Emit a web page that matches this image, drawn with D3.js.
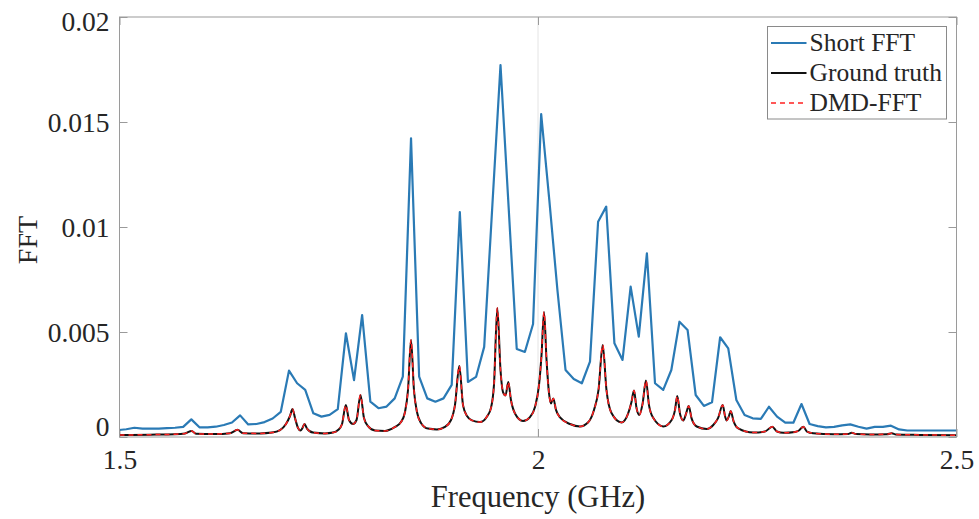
<!DOCTYPE html>
<html>
<head>
<meta charset="utf-8">
<script src="https://cdn.jsdelivr.net/npm/d3@7"></script>
<style>
  body { margin: 0; background: #fff; }
  text { font-family: "Liberation Serif", "Times New Roman", serif; fill: #262626; }
</style>
</head>
<body>
<svg id="chart"></svg>
<script>
// short FFT, coarse frequency grid (GHz)
const shortFreq = [1.4984,1.5081,1.5178,1.5275,1.5372,1.5470,1.5567,1.5664,1.5761,1.5858,
  1.5955,1.6053,1.6150,1.6247,1.6344,1.6441,1.6538,1.6636,1.6733,1.6830,
  1.6927,1.7025,1.7122,1.7219,1.7316,1.7413,1.7510,1.7608,1.7705,1.7802,
  1.7899,1.7997,1.8094,1.8191,1.8288,1.8385,1.8483,1.8580,1.8677,1.8774,
  1.8871,1.8969,1.9066,1.9163,1.9260,1.9357,1.9455,1.9552,1.9649,1.9746,
  1.9843,1.9941,2.0038,2.0135,2.0232,2.0329,2.0427,2.0524,2.0621,2.0718,
  2.0815,2.0913,2.1010,2.1107,2.1204,2.1301,2.1398,2.1496,2.1593,2.1690,
  2.1787,2.1884,2.1982,2.2079,2.2176,2.2273,2.2370,2.2468,2.2565,2.2662,
  2.2759,2.2856,2.2954,2.3051,2.3148,2.3245,2.3342,2.3440,2.3537,2.3634,
  2.3731,2.3828,2.3926,2.4023,2.4120,2.4217,2.4314,2.4412,2.4509,2.4606,
  2.4703,2.4800,2.4898,2.4995];
const shortFFT = [0.00033,0.00037,0.00044,0.00040,0.00040,0.00040,0.00042,0.00044,0.00048,0.00084,
  0.00046,0.00046,0.00049,0.00057,0.00069,0.00103,0.00060,0.00062,0.00071,0.00088,
  0.00120,0.00316,0.00256,0.00224,0.00113,0.00097,0.00105,0.00133,0.00494,0.00271,
  0.00581,0.00168,0.00137,0.00145,0.00184,0.00287,0.01422,0.00287,0.00184,0.00168,
  0.00184,0.00248,0.01071,0.00262,0.00286,0.00429,0.01105,0.01771,0.01095,0.00419,
  0.00405,0.00538,0.01538,0.01129,0.00700,0.00319,0.00276,0.00256,0.00359,0.01025,
  0.01097,0.00446,0.00367,0.00716,0.00478,0.00875,0.00256,0.00224,0.00319,0.00549,
  0.00510,0.00200,0.00148,0.00165,0.00475,0.00422,0.00176,0.00105,0.00089,0.00086,
  0.00144,0.00097,0.00068,0.00068,0.00157,0.00062,0.00052,0.00046,0.00048,0.00055,
  0.00060,0.00049,0.00040,0.00048,0.00048,0.00054,0.00036,0.00031,0.00031,0.00031,
  0.00031,0.00031,0.00031,0.00031];

// ground truth / DMD-FFT
const truthFreq = [1.5000,1.5364,1.5663,1.5783,1.5863,1.5914,1.6141,1.6320,1.6410,1.6475,
  1.6679,1.6822,1.6918,1.6989,1.7037,1.7067,1.7097,1.7133,1.7162,1.7186,
  1.7210,1.7240,1.7312,1.7455,1.7551,1.7611,1.7659,1.7704,1.7742,1.7790,
  1.7832,1.7879,1.7921,1.7969,1.8053,1.8172,1.8292,1.8363,1.8411,1.8447,
  1.8483,1.8518,1.8554,1.8602,1.8686,1.8793,1.8889,1.8961,1.9008,1.9060,
  1.9104,1.9152,1.9211,1.9307,1.9391,1.9438,1.9474,1.9514,1.9552,1.9582,
  1.9612,1.9645,1.9677,1.9725,1.9821,1.9904,1.9964,2.0012,2.0042,2.0072,
  2.0102,2.0131,2.0155,2.0183,2.0215,2.0263,2.0382,2.0502,2.0597,2.0669,
  2.0723,2.0773,2.0818,2.0878,2.0998,2.1075,2.1117,2.1147,2.1177,2.1210,
  2.1249,2.1290,2.1326,2.1378,2.1497,2.1597,2.1637,2.1664,2.1697,2.1736,
  2.1768,2.1801,2.1834,2.1896,2.2016,2.2094,2.2151,2.2207,2.2234,2.2254,
  2.2282,2.2302,2.2336,2.2393,2.2572,2.2712,2.2799,2.2855,2.2931,2.3070,
  2.3118,2.3170,2.3214,2.3289,2.3528,2.3704,2.3748,2.3799,2.3967,2.4170,
  2.4226,2.4277,2.4564,2.5000];
const groundTruth = [0.000095,0.00011,0.00013,0.00017,0.00029,0.00015,0.00014,0.00018,0.00034,0.00018,
  0.00017,0.00021,0.00033,0.00062,0.00100,0.00133,0.00090,0.00043,0.00031,0.00043,
  0.00062,0.00040,0.00021,0.00017,0.00021,0.00033,0.00062,0.00152,0.00081,0.00062,
  0.00081,0.00200,0.00090,0.00052,0.00031,0.00029,0.00048,0.00071,0.00119,0.00224,
  0.00462,0.00224,0.00119,0.00067,0.00040,0.00036,0.00048,0.00081,0.00152,0.00338,
  0.00152,0.00100,0.00079,0.00071,0.00098,0.00138,0.00248,0.00614,0.00319,0.00214,
  0.00198,0.00262,0.00176,0.00112,0.00076,0.00095,0.00143,0.00248,0.00390,0.00595,
  0.00367,0.00210,0.00160,0.00183,0.00129,0.00093,0.00062,0.00050,0.00069,0.00129,
  0.00224,0.00438,0.00224,0.00114,0.00069,0.00110,0.00167,0.00221,0.00138,0.00105,
  0.00157,0.00269,0.00152,0.00090,0.00050,0.00081,0.00129,0.00195,0.00110,0.00079,
  0.00110,0.00148,0.00090,0.00050,0.00038,0.00057,0.00090,0.00152,0.00100,0.00079,
  0.00100,0.00124,0.00076,0.00041,0.00021,0.00026,0.00049,0.00026,0.00020,0.00024,
  0.00031,0.00049,0.00026,0.00018,0.00013,0.00014,0.00020,0.00014,0.00012,0.00013,
  0.00018,0.00012,0.00010,0.00008];
// DMD-FFT lies on top of the ground truth
const dmdFFT = groundTruth.slice();

const xTicks = [1.5, 2, 2.5];
const yTicks = [0, 0.005, 0.01, 0.015, 0.02];
const seriesNames = ['Short FFT', 'Ground truth', 'DMD-FFT'];

const margin = { top: 17, right: 22.5, bottom: 82, left: 119.5 };
const W = 979, H = 519;
const width = W - margin.left - margin.right;
const height = H - margin.top - margin.bottom;

const svg = d3.select('#chart').attr('width', W).attr('height', H);
const g = svg.append('g').attr('transform', 'translate(' + margin.left + ',' + margin.top + ')');

const x = d3.scaleLinear().domain([1.5, 2.5]).range([0, width]);
const y = d3.scaleLinear().domain([0, 0.02]).range([height, 0]);

g.append('defs').append('clipPath').attr('id', 'clip')
  .append('rect').attr('width', width).attr('height', height);

// faint grid line at x = 2
g.append('line')
  .attr('x1', x(2)).attr('x2', x(2)).attr('y1', 0).attr('y2', height)
  .attr('stroke', '#e4e4e4').attr('stroke-width', 1);

const axisColor = '#9a9a9a';
const styleAxis = sel => {
  sel.select('.domain').remove();
  sel.selectAll('.tick line').attr('stroke', axisColor);
};

g.append('g')
  .call(d3.axisLeft(y).tickValues(yTicks).tickSize(-8).tickPadding(10).tickFormat(d => String(d)))
  .call(styleAxis)
  .call(s => s.selectAll('text')
    .attr('font-size', 27.5).attr('fill', '#262626')
    .attr('font-family', '"Liberation Serif", "Times New Roman", serif')
    .attr('dy', d => d === 0 ? '-0.07em' : d === 0.02 ? '0.5em' : '0.33em'));

g.append('g').attr('transform', 'translate(' + width + ',0)')
  .call(d3.axisRight(y).tickValues(yTicks).tickSize(-8).tickFormat(''))
  .call(styleAxis);

g.append('g').attr('transform', 'translate(0,' + height + ')')
  .call(d3.axisBottom(x).tickValues(xTicks).tickSize(-8).tickPadding(12).tickFormat(d => String(d)))
  .call(styleAxis)
  .call(s => s.selectAll('text')
    .attr('font-size', 27.5).attr('fill', '#262626')
    .attr('font-family', '"Liberation Serif", "Times New Roman", serif'));

g.append('g')
  .call(d3.axisTop(x).tickValues(xTicks).tickSize(-8).tickFormat(''))
  .call(styleAxis);

// lines
const shortLine = d3.line().x((d, i) => x(shortFreq[i])).y(d => y(d));
const fineLine = d3.line().x((d, i) => x(truthFreq[i])).y(d => y(d)).curve(d3.curveMonotoneX);

const plot = g.append('g').attr('clip-path', 'url(#clip)');

plot.append('path').datum(shortFFT)
  .attr('fill', 'none').attr('stroke', '#2a7ab5').attr('stroke-width', 2.2)
  .attr('stroke-linejoin', 'round').attr('d', shortLine);

plot.append('path').datum(groundTruth)
  .attr('fill', 'none').attr('stroke', '#111').attr('stroke-width', 2)
  .attr('stroke-linejoin', 'round').attr('d', fineLine);

plot.append('path').datum(dmdFFT)
  .attr('fill', 'none').attr('stroke', '#ff2020').attr('stroke-width', 1.5)
  .attr('stroke-dasharray', '5,4').attr('d', fineLine);

// box
g.append('rect').attr('width', width).attr('height', height)
  .attr('fill', 'none').attr('stroke', axisColor).attr('stroke-width', 1);

// axis labels
svg.append('text')
  .attr('x', margin.left + width / 2).attr('y', 507)
  .attr('text-anchor', 'middle').attr('font-size', 30.5)
  .text('Frequency (GHz)');

svg.append('text')
  .attr('transform', 'translate(37,' + (margin.top + height / 2 + 13) + ') rotate(-90)')
  .attr('text-anchor', 'middle').attr('font-size', 28)
  .text('FFT');

// legend
const legend = svg.append('g').attr('transform', 'translate(767.5,26.5)');
legend.append('rect').attr('width', 179).attr('height', 92.5)
  .attr('fill', '#fff').attr('stroke', '#8a8a8a').attr('stroke-width', 1);

const legendStyles = [
  { stroke: '#2a7ab5', width: 2, dash: null },
  { stroke: '#111', width: 2, dash: null },
  { stroke: '#ff2020', width: 1.5, dash: '5,4' }
];
const rows = legend.selectAll('g.row').data(seriesNames).enter().append('g')
  .attr('class', 'row')
  .attr('transform', (d, i) => 'translate(0,' + (16.5 + i * 30) + ')');
rows.append('line')
  .attr('x1', 3.5).attr('x2', 39).attr('y1', 0).attr('y2', 0)
  .attr('stroke', (d, i) => legendStyles[i].stroke)
  .attr('stroke-width', (d, i) => legendStyles[i].width)
  .attr('stroke-dasharray', (d, i) => legendStyles[i].dash);
rows.append('text')
  .attr('x', 42).attr('y', 0).attr('dy', '0.33em')
  .attr('font-size', 25.5)
  .text(d => d);
</script>
</body>
</html>
